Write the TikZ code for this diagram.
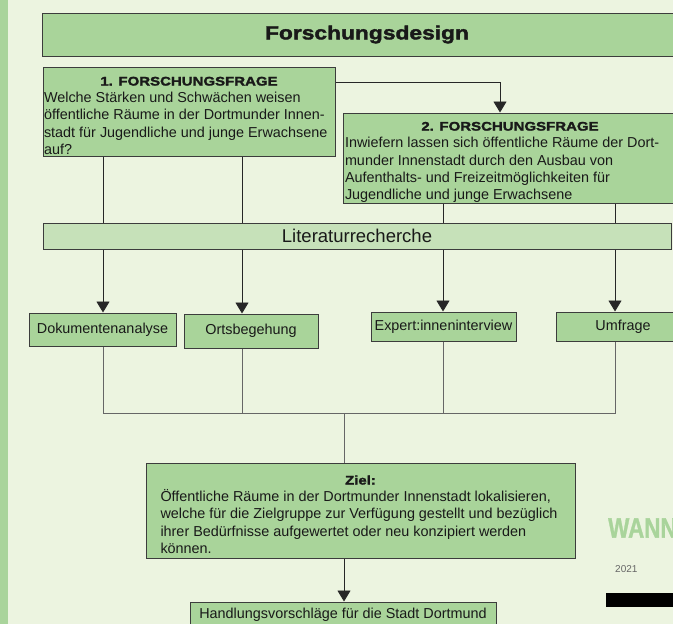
\documentclass[tikz,border=0pt]{standalone}
\usepackage{fontspec}
\setmainfont{Liberation Sans}
\newfontfamily\heavy[FakeStretch=1.2,FakeBold=2]{Liberation Sans Bold}
\newfontfamily\wannfont[FakeStretch=0.8,FakeBold=1]{Liberation Sans Bold}
\usetikzlibrary{arrows.meta}
\definecolor{bg}{HTML}{ECF4E0}
\definecolor{strip}{HTML}{A9D49B}
\definecolor{boxgreen}{HTML}{A9D49A}
\definecolor{litgreen}{HTML}{C6E1B9}
\definecolor{edgegray}{HTML}{3C3C3C}
\tikzset{
  box/.style={draw=edgegray,fill=boxgreen,line width=1pt,inner sep=0pt,text=black!90},
  body/.style={font=\fontsize{14.4}{17.2}\selectfont},
  arr/.style={draw=black!85,line width=0.9pt,-{Triangle[width=13pt,length=11pt]}},
  con/.style={draw=black!60,line width=1pt}
}
\newcommand\boxhead[2]{\makebox[#1]{\rule{0pt}{17pt}\fontsize{12.5}{17.2}\heavy #2}}

\begin{document}
\begin{tikzpicture}[x=1pt,y=-1pt]
\useasboundingbox (0,0) rectangle (673,624);
\fill[bg] (0,0) rectangle (673,624);
\fill[strip] (0,0) rectangle (8,624);

\node[box,minimum width=650,minimum height=43] (title) at (367,34.5) {\raisebox{-3pt}{\fontsize{19}{22}\heavy Forschungsdesign}};

\node[box,body,minimum width=292,minimum height=89,align=left] (f1) at (189,111.5) {\boxhead{290pt}{1. FORSCHUNGSFRAGE}\\Welche Stärken und Schwächen weisen\\öffentliche Räume in der Dortmunder Innen-\\stadt für Jugendliche und junge Erwachsene\\auf?};
\node[box,body,minimum width=334,minimum height=90,align=left] (f2) at (510,158) {\boxhead{330pt}{2. FORSCHUNGSFRAGE}\\Inwiefern lassen sich öffentliche Räume der Dort-\\munder Innenstadt durch den Ausbau von\\Aufenthalts- und Freizeitmöglichkeiten für\\Jugendliche und junge Erwachsene};

\node[box,fill=litgreen,minimum width=628,minimum height=26,font=\fontsize{18.5}{20}\selectfont] (lit) at (357,236) {Literaturrecherche};

\node[box,body,minimum width=147,minimum height=33] (doku) at (102.5,329.5) {Dokumentenanalyse};
\node[box,body,minimum width=134,minimum height=34] (orts) at (251,331) {Ortsbegehung};
\node[box,body,minimum width=145,minimum height=29] (expert) at (443.5,326.5) {Expert:inneninterview};
\node[box,body,minimum width=134,minimum height=29] (umfrage) at (623,326.5) {Umfrage};

\node[box,body,minimum width=429,minimum height=95,align=left] (ziel) at (360.5,510.5) {\boxhead{400pt}{Ziel:}\\Öffentliche Räume in der Dortmunder Innenstadt lokalisieren,\\welche für die Zielgruppe zur Verfügung gestellt und bezüglich\\ihrer Bedürfnisse aufgewertet oder neu konzipiert werden\\können.};
\node[box,body,minimum width=306,minimum height=26] (hand) at (343,615) {Handlungsvorschläge für die Stadt Dortmund};

\node[anchor=west,inner sep=0pt,text=strip,font=\fontsize{28}{28}\wannfont] (wann) at (608,528) {WANN};
\node[anchor=west,inner sep=0pt,text=black!60,font=\fontsize{10}{10}\selectfont] (year) at (615,569) {2021};
\fill[black] (606,593) rectangle (680,607);

\coordinate (c1) at (103,0);
\coordinate (c2) at (242,0);
\coordinate (c3) at (443,0);
\coordinate (c4) at (615,0);
\coordinate (bend) at (500,82);
\coordinate (join) at (344,413);

\draw[arr] (bend -| f1.east) -| (bend |- f2.north);
\draw[con,draw=black!85] (c1 |- f1.south) -- (c1 |- lit.north) (c2 |- f1.south) -- (c2 |- lit.north)
  (c3 |- f2.south) -- (c3 |- lit.north) (c4 |- f2.south) -- (c4 |- lit.north);
\draw[arr] (c1 |- lit.south) -- (c1 |- doku.north);
\draw[arr] (c2 |- lit.south) -- (c2 |- orts.north);
\draw[arr] (c3 |- lit.south) -- (c3 |- expert.north);
\draw[arr] (c4 |- lit.south) -- (c4 |- umfrage.north);
\draw[con] (c1 |- doku.south) -- (c1 |- join) -- (c4 |- join) -- (c4 |- umfrage.south)
  (c2 |- orts.south) -- (c2 |- join) (c3 |- expert.south) -- (c3 |- join) (join) -- (join |- ziel.north);
\draw[arr] (join |- ziel.south) -- (join |- hand.north);
\end{tikzpicture}
\end{document}
